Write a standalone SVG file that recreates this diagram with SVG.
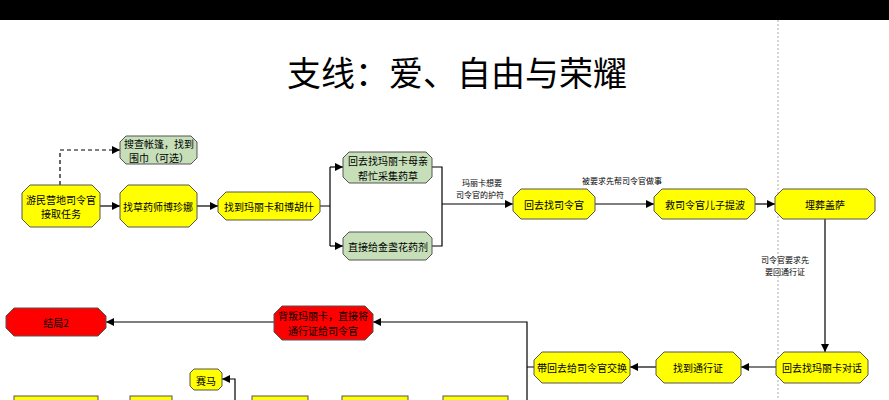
<svg xmlns="http://www.w3.org/2000/svg" width="889" height="400" viewBox="0 0 889 400">
<defs>
<marker id="ah" viewBox="0 0 10 10" refX="10" refY="5" markerWidth="7" markerHeight="7" orient="auto"><path d="M0,0 L10,5 L0,10 z" fill="#000"/></marker>
<style>
text{font-family:"Noto Sans CJK SC","Liberation Sans",sans-serif;fill:#000}
.n{font-size:10px;text-anchor:middle;dominant-baseline:central}
.l{font-size:8px;text-anchor:middle}
.y{fill:#ffff00;stroke:#555;stroke-width:1}
.g{fill:#c6dfb9;stroke:#555;stroke-width:1}
.r{fill:#ff0000;stroke:#555;stroke-width:1}
.c{fill:none;stroke:#000;stroke-width:1.2}
</style>
</defs>
<rect width="889" height="400" fill="#fff"/>
<rect width="889" height="20" fill="#000"/>
<line x1="778" y1="20" x2="778" y2="400" stroke="#aaa" stroke-dasharray="2,2"/>
<text x="457" y="86" font-size="34" text-anchor="middle">支线：爱、自由与荣耀</text>
<g id="connectors">
<path class="c" d="M60,185 V150 H120" stroke-dasharray="4,3" marker-end="url(#ah)"/>
<path class="c" d="M100,206 H120" marker-end="url(#ah)"/>
<path class="c" d="M197,206 H218" marker-end="url(#ah)"/>
<path class="c" d="M320,206 H330 M330,167 V246"/>
<path class="c" d="M330,167 H343" marker-end="url(#ah)"/>
<path class="c" d="M330,246 H343" marker-end="url(#ah)"/>
<path class="c" d="M432,167 H442 V246 H432 M442,204 H513" marker-end="url(#ah)"/>
<path class="c" d="M595,204 H654" marker-end="url(#ah)"/>
<path class="c" d="M755,204 H775" marker-end="url(#ah)"/>
<path class="c" d="M825,219 V352" marker-end="url(#ah)"/>
<path class="c" d="M776,367 H741" marker-end="url(#ah)"/>
<path class="c" d="M656,367 H630" marker-end="url(#ah)"/>
<path class="c" d="M534,367 H527 V400 M527,367 V322 H373" marker-end="url(#ah)"/>
<path class="c" d="M274,322 H106" marker-end="url(#ah)"/>
<path class="c" d="M235,400 V379 H222" marker-end="url(#ah)"/>
<text class="l" x="482" y="186">玛丽卡想要</text>
<text class="l" x="480" y="198">司令官的护符</text>
<text class="l" x="622" y="184">被要求先帮司令官做事</text>
<text class="l" x="785" y="263">司令官要求先</text>
<text class="l" x="785" y="275">要回通行证</text>
</g>
<g id="n1"><polygon class="y" points="30,185 92,185 100,193 100,219 92,227 30,227 22,219 22,193"/><text class="n" x="61" y="199">游民营地司令官</text><text class="n" x="61" y="213">接取任务</text></g>
<g id="n2"><polygon class="y" points="128,185 189,185 197,193 197,219 189,227 128,227 120,219 120,193"/><text class="n" x="158" y="206">找草药师博珍娜</text></g>
<g id="n3"><polygon class="y" points="226,192 312,192 320,200 320,212 312,220 226,220 218,212 218,200"/><text class="n" x="269" y="206">找到玛丽卡和博胡什</text></g>
<g id="n4"><polygon class="g" points="126,136 191,136 197,142 197,158 191,164 126,164 120,158 120,142"/><text class="n" x="159" y="143">搜查帐篷，找到</text><text class="n" x="159" y="157">围巾（可选）</text></g>
<g id="n5"><polygon class="g" points="349,152 426,152 432,158 432,177 426,183 349,183 343,177 343,158"/><text class="n" x="388" y="160">回去找玛丽卡母亲</text><text class="n" x="388" y="175">帮忙采集药草</text></g>
<g id="n6"><polygon class="g" points="349,232 426,232 432,238 432,254 426,260 349,260 343,254 343,238"/><text class="n" x="388" y="246">直接给金盏花药剂</text></g>
<g id="n7"><polygon class="y" points="521,189 587,189 595,197 595,211 587,219 521,219 513,211 513,197"/><text class="n" x="554" y="204">回去找司令官</text></g>
<g id="n8"><polygon class="y" points="662,189 747,189 755,197 755,211 747,219 662,219 654,211 654,197"/><text class="n" x="705" y="204">救司令官儿子提波</text></g>
<g id="n9"><polygon class="y" points="783,189 867,189 875,197 875,211 867,219 783,219 775,211 775,197"/><text class="n" x="825" y="204">埋葬盖萨</text></g>
<g id="n10"><polygon class="y" points="784,352 860,352 868,360 868,375 860,383 784,383 776,375 776,360"/><text class="n" x="822" y="367">回去找玛丽卡对话</text></g>
<g id="n11"><polygon class="y" points="664,352 733,352 741,360 741,375 733,383 664,383 656,375 656,360"/><text class="n" x="698" y="367">找到通行证</text></g>
<g id="n12"><polygon class="y" points="542,352 622,352 630,360 630,375 622,383 542,383 534,375 534,360"/><text class="n" x="582" y="367">带回去给司令官交换</text></g>
<g id="n13"><polygon class="r" points="282,306 365,306 373,314 373,332 365,340 282,340 274,332 274,314"/><text class="n" x="323" y="315" font-size="8.5">背叛玛丽卡，直接将</text><text class="n" x="323" y="330" font-size="8.5">通行证给司令官</text></g>
<g id="n14"><polygon class="r" points="14,308 98,308 106,316 106,328 98,336 14,336 6,328 6,316"/><text class="n" x="56" y="322" font-size="9">结局2</text></g>
<g id="n15"><polygon class="y" points="194,369 218,369 222,373 222,386 218,390 194,390 190,386 190,373"/><text class="n" x="206" y="380" font-size="9">赛马</text></g>
<g id="partial"><rect class="y" x="14" y="396" width="84" height="8"/><rect class="y" x="130" y="396" width="42" height="8"/><rect class="y" x="252" y="396" width="56" height="8"/><rect class="y" x="342" y="396" width="66" height="8"/><rect class="y" x="443" y="396" width="65" height="8"/></g>
</svg>
